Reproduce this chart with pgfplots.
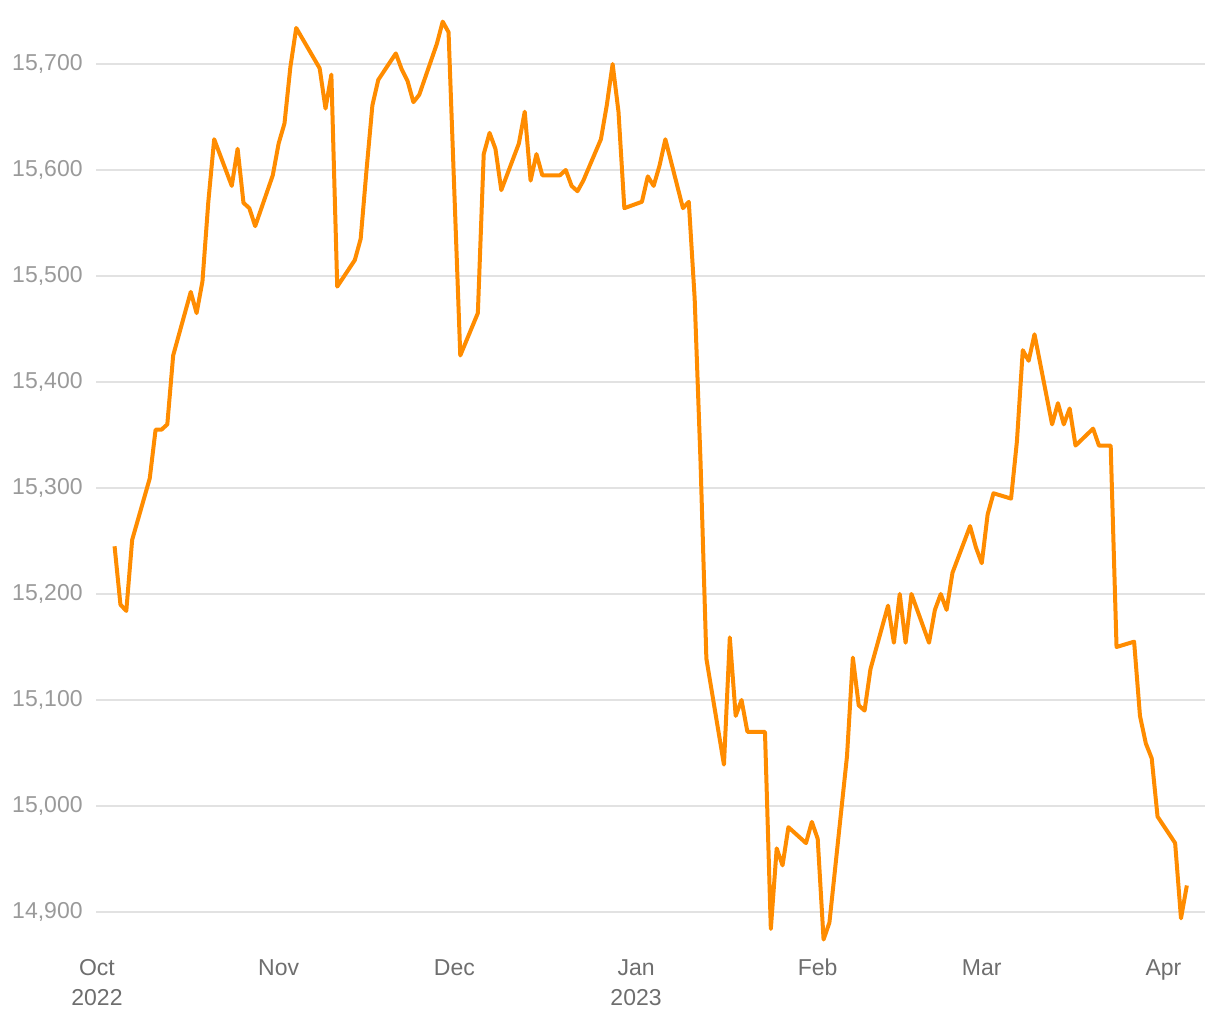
\documentclass[border=0pt]{standalone}
\usepackage{fontspec}
\setmainfont{Liberation Sans}
\usepackage{pgfplots}
\pgfplotsset{compat=1.18}
\definecolor{lineorange}{HTML}{FF8C00}
\definecolor{gridgray}{HTML}{E2E2E2}
\definecolor{ylabgray}{HTML}{9A9A9A}
\definecolor{xlabgray}{HTML}{6E6E6E}
\newcommand{\fl}{\vphantom{Nb}}
\begin{document}
\begin{tikzpicture}
\useasboundingbox (-48pt,-38pt) rectangle (562pt,472pt);
\begin{axis}[
    scale only axis,
    width=554.5pt, height=464pt,
    at={(0,0)}, anchor=south west,
    xmin=-0.17, xmax=189.1,
    ymin=14869.8, ymax=15745.3,
    axis line style={draw=none},
    major tick length=0pt,
    ymajorgrids,
    grid style={gridgray, line width=1pt},
    ytick={14900,15000,...,15700},
    scaled y ticks=false,
    xtick={0,31,61,92,123,151,182},
    xticklabels={\fl Oct\\2022,\fl Nov,\fl Dec,\fl Jan\\2023,\fl Feb,\fl Mar,\fl Apr},
    /pgf/number format/assume math mode=true,
    /pgf/number format/fixed,
    /pgf/number format/1000 sep={,},
    yticklabel style={anchor=east, inner sep=0pt, xshift=-6.5pt,
      text=ylabgray, font=\fontsize{11.5}{14}\selectfont},
    xticklabel style={anchor=north, inner sep=0pt, yshift=-7pt, align=center,
      text=xlabgray, font=\fontsize{11.5}{15}\selectfont},
    clip=false,
]
% days since 1 Oct 2022
\addplot[lineorange, line width=2pt, line join=round, no markers] coordinates {
(3,15245) (4,15190) (5,15184) (6,15251) (9,15309) (10,15355) (11,15355)
(12,15360) (13,15425) (16,15485) (17,15465) (18,15495) (19,15570) (20,15629)
(23,15585) (24,15620) (25,15569) (26,15564) (27,15547) (30,15595) (31,15625)
(32,15644) (33,15697) (34,15734) (38,15696) (39,15658) (40,15690) (41,15490)
(44,15515) (45,15535) (46,15600) (47,15661) (48,15685) (51,15710) (52,15695)
(53,15684) (54,15664) (55,15671) (58,15719) (59,15740) (60,15730) (62,15425)
(65,15465) (66,15615) (67,15635) (68,15620) (69,15581) (72,15625) (73,15655)
(74,15590) (75,15615) (76,15595) (79,15595) (80,15600) (81,15585) (82,15580)
(83,15590) (86,15629) (87,15661) (88,15700) (89,15655) (90,15564) (93,15570)
(94,15594) (95,15585) (96,15604) (97,15629) (100,15564) (101,15570) (102,15479)
(103,15325) (104,15139) (107,15039) (108,15159) (109,15085) (110,15100)
(111,15070) (114,15070) (115,14884) (116,14960) (117,14944) (118,14980)
(121,14965) (122,14985) (123,14969) (124,14874) (125,14890) (128,15047)
(129,15140) (130,15095) (131,15090) (132,15129) (135,15189) (136,15154)
(137,15200) (138,15154) (139,15200) (142,15154) (143,15185) (144,15200)
(145,15185) (146,15220) (149,15264) (150,15244) (151,15229) (152,15275)
(153,15295) (156,15290) (157,15344) (158,15430) (159,15420) (160,15445)
(163,15360) (164,15380) (165,15360) (166,15375) (167,15340) (170,15356)
(171,15340) (173,15340) (174,15150) (177,15155) (178,15085) (179,15059)
(180,15045) (181,14990) (184,14965) (185,14894) (186,14925)
};
\end{axis}
\end{tikzpicture}
\end{document}
